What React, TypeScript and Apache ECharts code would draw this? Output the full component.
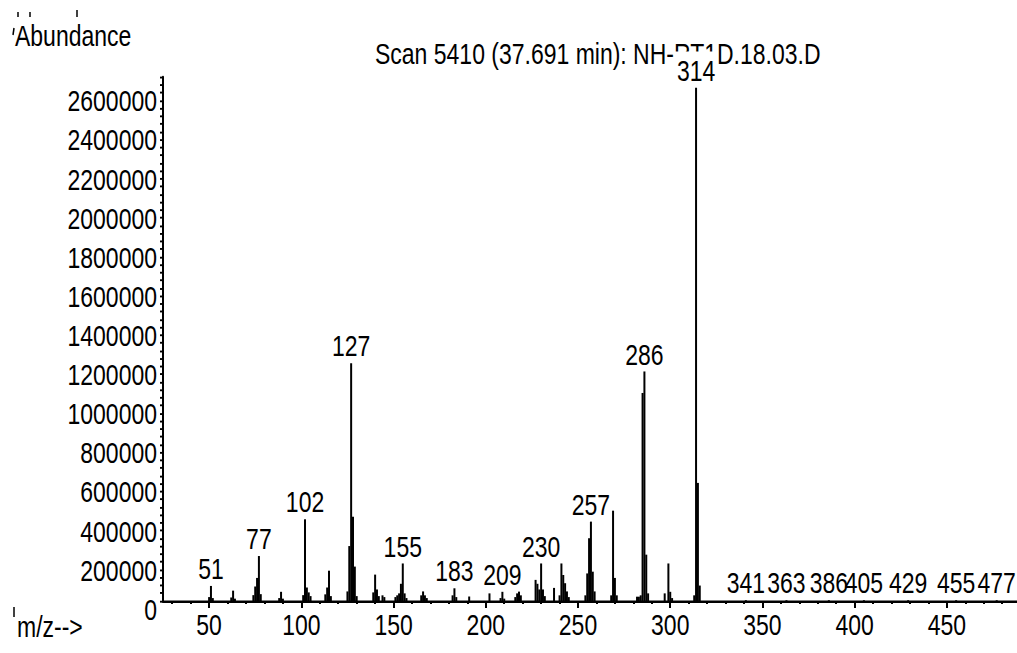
import { useEffect, useRef } from 'react';
import * as echarts from 'echarts';

const FONT = '"Liberation Sans", Arial, sans-serif';
const FS = 23;
// The reference plot is a vertically stretched rendering; we draw at a reduced height and stretch it.
const W = 1017;
const H = 522;
const S = 653 / H;

const titleText = 'Scan 5410 (37.691 min): NH-RT1D.18.03.D';
const yAxisTitle = 'Abundance';
const xAxisTitle = 'm/z-->';

const mz = [
  50, 51, 52, 62, 63, 64, 74, 75, 76, 77, 78, 88, 89, 90,
  101, 102, 103, 104, 105, 113, 114, 115, 116,
  125, 126, 127, 128, 129, 130, 139, 140, 141, 142, 144, 145,
  151, 152, 153, 154, 155, 156, 157, 165, 166, 167, 168,
  182, 183, 184, 191, 202, 208, 209, 210, 216, 217, 218, 219,
  227, 228, 229, 230, 231, 232, 237, 240, 241, 242, 243, 244, 245,
  254, 255, 256, 257, 258, 259, 268, 269, 270, 271,
  282, 283, 284, 285, 286, 287, 288, 297, 299, 300, 301,
  313, 314, 315, 316, 341, 363, 386, 405, 429, 455, 477,
];
const abundance = [
  20000, 77000, 15000, 18000, 53000, 12000, 30000, 74000, 118000, 230000, 35000, 15000, 47000, 12000,
  30000, 418000, 69000, 44000, 25000, 34000, 69000, 155000, 25000,
  49000, 281000, 1216000, 431000, 176000, 25000, 44000, 135000, 59000, 25000, 29000, 20000,
  20000, 29000, 39000, 88000, 192000, 39000, 15000, 29000, 49000, 29000, 15000,
  29000, 65000, 20000, 23000, 39000, 15000, 47000, 12000, 20000, 39000, 48000, 29000,
  108000, 88000, 59000, 192000, 59000, 25000, 67000, 29000, 192000, 133000, 91000, 49000, 20000,
  29000, 141000, 321000, 406000, 150000, 49000, 29000, 462000, 118000, 29000,
  22000, 22000, 29000, 1064000, 1174000, 237000, 39000, 39000, 192000, 47000, 15000,
  29000, 2625000, 604000, 79000, 4000, 4000, 4000, 4000, 4000, 4000, 4000,
];
const labeledPeaks = [51, 77, 102, 127, 155, 183, 209, 230, 257, 286, 314, 341, 363, 386, 405, 429, 455, 477];

const xMajorTicks = [50, 100, 150, 200, 250, 300, 350, 400, 450];
const yTickLabels = [0, 200000, 400000, 600000, 800000, 1000000, 1200000, 1400000, 1600000, 1800000, 2000000, 2200000, 2400000, 2600000];

const xMinorTicks: number[] = [];
for (let v = 30; v <= 480; v += 10) if (v % 50 !== 0) xMinorTicks.push(v);
const yMinorTicks: number[] = [];
for (let v = 0; v <= 2680000; v += 40000) yMinorTicks.push(v);

const u = (y: number) => y / S; // reference pixel y -> unstretched y

export default function App() {
  const ref = useRef<HTMLDivElement>(null);
  useEffect(() => {
    if (!ref.current) return;
    const chart = echarts.init(ref.current, null, { renderer: 'svg' });
    const txt = { fontFamily: FONT, fontSize: FS, color: '#000' };
    const data = mz.map((m, i) => {
      const item: any = { value: [m, abundance[i]] };
      if (labeledPeaks.includes(m)) {
        item.label = m === 314
          ? { show: true, backgroundColor: '#fff', padding: [4, 2, 0, 2] }
          : { show: true };
      }
      return item;
    });
    const option: any = {
      animation: false,
      backgroundColor: '#fff',
      title: {
        text: titleText, left: 375, top: u(54.5) - FS / 2, padding: 0,
        textStyle: { ...txt, fontWeight: 'normal' },
      },
      grid: { left: 163, right: 0, top: u(77), bottom: H - u(601) },
      xAxis: [
        {
          type: 'value', min: 25, max: 488,
          axisLine: { show: true, lineStyle: { color: '#000', width: 2 } },
          axisTick: { show: true, customValues: xMajorTicks, length: u(7), lineStyle: { color: '#000', width: 2 } },
          axisLabel: { show: true, customValues: xMajorTicks, margin: 8, ...txt },
          splitLine: { show: false },
        },
        {
          type: 'value', min: 25, max: 488, position: 'bottom',
          axisLine: { show: false },
          axisTick: { show: true, customValues: xMinorTicks, length: u(3), lineStyle: { color: '#000', width: 2 } },
          axisLabel: { show: false },
          splitLine: { show: false },
        },
      ],
      yAxis: {
        type: 'value', min: 0, max: 2680000,
        axisLine: { show: true, lineStyle: { color: '#000', width: 2 } },
        axisTick: { show: true, customValues: yMinorTicks, length: 3, lineStyle: { color: '#000', width: 1.5 } },
        axisLabel: {
          show: true, customValues: yTickLabels, margin: 6, ...txt,
          verticalAlign: 'top', lineHeight: 14,
          formatter: (v: number) => String(v),
        },
        splitLine: { show: false },
      },
      series: [
        {
          type: 'bar', xAxisIndex: 0, yAxisIndex: 0, barWidth: 2, z: 10,
          itemStyle: { color: '#000' },
          label: {
            show: false, position: 'top', distance: 2, ...txt,
            formatter: (p: any) => String(p.value[0]),
          },
          data,
        },
      ],
      graphic: [
        { type: 'text', x: 15, y: u(36), style: { text: yAxisTitle, fontFamily: FONT, fontSize: FS, fill: '#000', verticalAlign: 'middle' } },
        { type: 'text', x: 17, y: u(627), style: { text: xAxisTitle, fontFamily: FONT, fontSize: FS, fill: '#000', verticalAlign: 'middle' } },
        { type: 'line', shape: { x1: 14, y1: u(28), x2: 13, y2: u(35) }, style: { stroke: '#000', lineWidth: 1.5 } },
        { type: 'line', shape: { x1: 14, y1: u(607), x2: 14, y2: u(617) }, style: { stroke: '#000', lineWidth: 1.5 } },
        { type: 'line', shape: { x1: 18, y1: u(12), x2: 18, y2: u(17) }, style: { stroke: '#000', lineWidth: 1.5 } },
        { type: 'line', shape: { x1: 30, y1: u(12), x2: 30, y2: u(17) }, style: { stroke: '#000', lineWidth: 1.5 } },
        { type: 'line', shape: { x1: 77, y1: u(10), x2: 77, y2: u(17) }, style: { stroke: '#000', lineWidth: 1.5 } },
      ],
    };
    chart.setOption(option);
    return () => chart.dispose();
  }, []);
  return (
    <div
      ref={ref}
      style={{
        position: 'fixed', left: 0, top: 0, width: W, height: H,
        transform: `scaleY(${S})`, transformOrigin: 'top left',
      }}
    />
  );
}
